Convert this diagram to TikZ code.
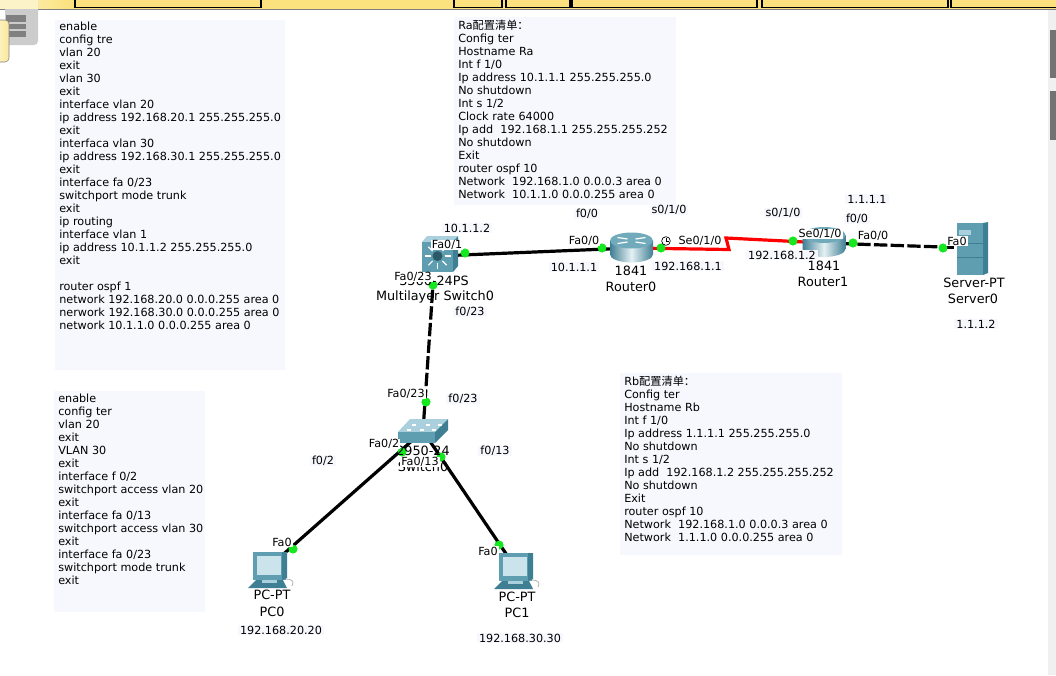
\documentclass[tikz,border=0pt]{standalone}
\usepackage{fontspec}
\setmainfont{DejaVu Sans}
\newfontfamily\cjk{Noto Sans CJK SC}
\usetikzlibrary{calc}
\definecolor{boxbg}{HTML}{F7F8FE}
\definecolor{portgreen}{HTML}{14E81E}
\definecolor{steelA}{HTML}{5F9DB0}
\definecolor{steelB}{HTML}{3F7F93}
\definecolor{steelC}{HTML}{A9D0DC}
\definecolor{barA}{HTML}{FDF3C8}
\definecolor{barB}{HTML}{FBE27E}
\tikzset{
 x=0.75pt,y=-0.75pt,
 cfgbox/.style={anchor=north west,inner sep=0pt,font=\fontsize{8.4}{9.75}\selectfont,align=left},
 note/.style={fill=boxbg,inner xsep=1.5pt,inner ysep=0.5pt,font=\fontsize{8.4}{9.75}\selectfont},
 port/.style={fill=white,inner xsep=1pt,inner ysep=0.5pt,font=\fontsize{8.4}{9.75}\selectfont},
 devname/.style={font=\fontsize{9.6}{11}\selectfont,inner sep=0pt},
 dot/.style={circle,fill=portgreen,inner sep=0pt,minimum size=6.6pt},
 wire/.style={line width=2.4pt,black},
 dashwire/.style={line width=2.4pt,black,dash pattern=on 10pt off 2.5pt},
 serial/.style={line width=2.4pt,red},
 tab/.style={draw=black,line width=0.8pt,fill=barB},
}
\newcommand{\lanswitch}[2]{%
 \begin{scope}[shift={(#1,#2)}]
  \fill[steelC] (0,13)--(12,0)--(50,0)--(37,13)--cycle;
  \fill[steelB] (37,13)--(50,0)--(50,11)--(37,24)--cycle;
  \fill[steelA] (0,13) rectangle (37,24);
  \foreach \a/\b in {14/5,28/5,40/5,9/10,22/10,34/10}
   \fill[white] (\a,\b) rectangle ++(4,1.5);
 \end{scope}}
\newcommand{\routericon}[2]{%
 \begin{scope}[shift={(#1,#2)}]
  \shade[left color=steelB,right color=steelB,middle color=white!70!steelC]
    (-21.5,-7)--(-21.5,7) arc[start angle=180,end angle=0,x radius=21.5,y radius=8]--(21.5,-7)--cycle;
  \fill[steelA!75!steelC] (0,-7) ellipse[x radius=21.5,y radius=8];
  \draw[white,line width=.9pt] (-14,-10)--(-4,-8.5) (14,-10)--(4,-8.5) (-14,-4)--(-4,-5.5) (14,-4)--(4,-5.5);
 \end{scope}}
\newcommand{\pcicon}[2]{%
 \begin{scope}[shift={(#1,#2)}]
  \fill[steelB] (-5,36)--(3,28)--(30,28)--(34,36)--cycle;
  \fill[steelA] (0,0) rectangle (33,28);
  \fill[steelB] (29,0)--(34,0)--(34,26)--(29,28)--cycle;
  \fill[steelC!60!white] (4,4) rectangle (28,23);
  \fill[steelC] (9,28) rectangle (24,31);
  \draw[gray!60,line width=.6pt] (33,27) .. controls (38,27) and (42,29) .. (39,34);
 \end{scope}}
\begin{document}
\begin{tikzpicture}
\useasboundingbox (0,0) rectangle (1056,675);
\fill[white] (0,0) rectangle (1056,675);
% window chrome
\fill[barB] (0,0) rectangle (1056,9);
\shade[left color=barA,right color=barB] (0,0) rectangle (70,9);
\draw[gray,line width=.8pt] (0,9.3)--(1056,9.3);
\foreach \a/\b in {75/261,454/502,506/570,572/757,762/948,951/1060}
  \draw[tab] (\a,-3) rectangle (\b,7.5);
\fill[black!6] (1048,10) rectangle (1056,675);
\fill[black!55] (1050,30) rectangle (1056,78);
\fill[black!55] (1050,91) rectangle (1056,140);
\fill[black!20,rounded corners=3pt] (5,0) rectangle (38,45);
\fill[black!20] (5,10) rectangle (38,0);
\fill[barA] (0,0) rectangle (38,9);
\fill[black!50] (6,15) rectangle (26,22);
\fill[black!50] (6,24) rectangle (26,29);
\fill[black!50] (6,31) rectangle (26,37);
\shade[left color=barA,right color=barB!60!barA,draw=black!50,rounded corners=3pt] (-4,20) rectangle (9,62);
% configuration text
\fill[boxbg] (55,20) rectangle (285,370);
\node[cfgbox] (cfgsw) at (59,21.5) {enable\\config tre\\vlan 20\\exit\\vlan 30\\exit\\interface vlan 20\\ip address 192.168.20.1 255.255.255.0\\exit\\interfaca vlan 30\\ip address 192.168.30.1 255.255.255.0\\exit\\interface fa 0/23\\switchport mode trunk\\exit\\ip routing\\interface vlan 1\\ip address 10.1.1.2 255.255.255.0\\exit\\[9.75pt]router ospf 1\\network 192.168.20.0 0.0.0.255 area 0\\nerwork 192.168.30.0 0.0.0.255 area 0\\network 10.1.1.0 0.0.0.255 area 0};
\fill[boxbg] (54,391) rectangle (205,612);
\node[cfgbox] (cfgl2) at (58,393.5) {enable\\config ter\\vlan 20\\exit\\VLAN 30\\exit\\interface f 0/2\\switchport access vlan 20\\exit\\interface fa 0/13\\switchport access vlan 30\\exit\\interface fa 0/23\\switchport mode trunk\\exit};
\fill[boxbg] (454,17) rectangle (676,205);
\node[cfgbox] (cfgra) at (458,20) {Ra{\cjk 配置清单：}\\Config ter\\Hostname Ra\\Int f 1/0\\Ip address 10.1.1.1 255.255.255.0\\No shutdown\\Int s 1/2\\Clock rate 64000\\Ip add\ \ 192.168.1.1 255.255.255.252\\No shutdown\\Exit\\router ospf 10\\Network\ \ 192.168.1.0 0.0.0.3 area 0\\Network\ \ 10.1.1.0 0.0.0.255 area 0};
\fill[boxbg] (620,373) rectangle (842,555);
\node[cfgbox] (cfgrb) at (624,376) {Rb{\cjk 配置清单：}\\Config ter\\Hostname Rb\\Int f 1/0\\Ip address 1.1.1.1 255.255.255.0\\No shutdown\\Int s 1/2\\Ip add\ \ 192.168.1.2 255.255.255.252\\No shutdown\\Exit\\router ospf 10\\Network\ \ 192.168.1.0 0.0.0.3 area 0\\Network\ \ 1.1.1.0 0.0.0.255 area 0};
% anchors at device bodies
\coordinate (mlsbody) at (438,256);
\coordinate (r0body) at (631,248);
\coordinate (r1body) at (824,243);
\coordinate (srvbody) at (972,248);
\coordinate (swbody) at (423,431);
\coordinate (pc0body) at (270,566);
\coordinate (pc1body) at (515,567);
% port dots
\node[dot] (pA) at (465,253) {};
\node[dot] (pB) at (602,248) {};
\node[dot] (pC) at (661,248) {};
\node[dot] (pD) at (793,241) {};
\node[dot] (pE) at (853,243) {};
\node[dot] (pF) at (943,248) {};
\node[dot] (pG) at (433,285) {};
\node[dot] (pH) at (426,402) {};
\node[dot] (pI) at (402,452) {};
\node[dot] (pJ) at (441,457) {};
\node[dot] (pK) at (293,549) {};
\node[dot] (pL) at (499,545) {};
% connectors
\draw[wire] (mlsbody)--(r0body);
\draw[dashwire] (r1body)--(srvbody);
\draw[dashwire] (pG)--(swbody);
\draw[wire] (swbody)--(pc0body);
\draw[wire] (swbody)--(pc1body);
\draw[serial] (r0body)--(729,249.5)--(726,238)--(r1body);
% devices
\begin{scope}[shift={(422,236)}]
 \fill[steelC] (0,6)--(5,0)--(36,0)--(31,6)--cycle;
 \fill[steelB] (31,6)--(36,0)--(36,30)--(31,36)--cycle;
 \fill[steelA] (0,6) rectangle (31,36);
 \fill[steelB!70!black] (15.5,20) circle (5);
 \foreach \r in {0,45,...,315} \draw[white,line width=.8pt] (15.5,20)++(\r:7)--++(\r:6);
\end{scope}
\routericon{631.5}{247.5}
\routericon{824}{242}
\begin{scope}[shift={(957,223)}]
 \fill[steelA] (0,0) rectangle (26,52);
 \fill[steelB] (26,0)--(31,-1)--(31,50)--(26,52)--cycle;
 \fill[steelC] (2,7) rectangle (14,12);
 \draw[steelB,line width=.6pt] (0,20)--(26,20) (0,34)--(26,34);
\end{scope}
\lanswitch{398}{419}
\pcicon{253}{552}
\pcicon{499}{553}
% redraw the dots over the devices
\foreach \p in {pA,pB,pC,pD,pE,pF,pG,pH,pI,pJ,pK,pL} \fill[portgreen] (\p) circle (4.4);
% clock glyph
\node[draw=black,circle,inner sep=0pt,minimum size=6.5pt,line width=.5pt] (clk) at (666,241) {};
\draw[line width=.5pt] (clk.center)--++(0,-3)  (clk.center)--++(2.5,0);
% device names
\node[devname] (n1) at (434,281) {3560-24PS};
\node[devname] (n2) at (435,297) {Multilayer Switch0};
\node[devname] (n3) at (631,271) {1841};
\node[devname] (n4) at (631,287) {Router0};
\node[devname] (n5) at (824,266) {1841};
\node[devname] (n6) at (823,282) {Router1};
\node[devname] (n7) at (974,283) {Server-PT};
\node[devname] (n8) at (973,299) {Server0};
\node[devname] (n9) at (423,451) {2950-24};
\node[devname] (n10) at (423,467) {Switch0};
\node[devname] (n11) at (272,595) {PC-PT};
\node[devname] (n12) at (272,612) {PC0};
\node[devname] (n13) at (517,597) {PC-PT};
\node[devname] (n14) at (517,613) {PC1};
% port labels
\node[port] (l1) at (447,245) {Fa0/1};
\node[port] (l2) at (413,277) {Fa0/23};
\node[port] (l3) at (584,241) {Fa0/0};
\node[port] (l4) at (700,241) {Se0/1/0};
\node[port] (l5) at (820,234) {Se0/1/0};
\node[port] (l6) at (873,236) {Fa0/0};
\node[port] (l7) at (957,241) {Fa0};
\node[port] (l8) at (406,394) {Fa0/23};
\node[port] (l9) at (384,444) {Fa0/2};
\node[port] (l10) at (420,462) {Fa0/13};
\node[port] (l11) at (282,542) {Fa0};
\node[port] (l12) at (488,551) {Fa0};
% address notes
\node[note] (a1) at (467,228) {10.1.1.2};
\node[note] (a2) at (470,312) {f0/23};
\node[note] (a3) at (587,214) {f0/0};
\node[note] (a4) at (669,210) {s0/1/0};
\node[note] (a5) at (574,267) {10.1.1.1};
\node[note] (a6) at (688,266) {192.168.1.1};
\node[note] (a7) at (783,213) {s0/1/0};
\node[note] (a8) at (867,199) {1.1.1.1};
\node[note] (a9) at (857,219) {f0/0};
\node[note] (a10) at (782,255) {192.168.1.2};
\node[note] (a11) at (976,324) {1.1.1.2};
\node[note] (a12) at (463,399) {f0/23};
\node[note] (a13) at (495,451) {f0/13};
\node[note] (a14) at (323,461) {f0/2};
\node[note] (a15) at (281,630) {192.168.20.20};
\node[note] (a16) at (520,638) {192.168.30.30};
\end{tikzpicture}
\end{document}
